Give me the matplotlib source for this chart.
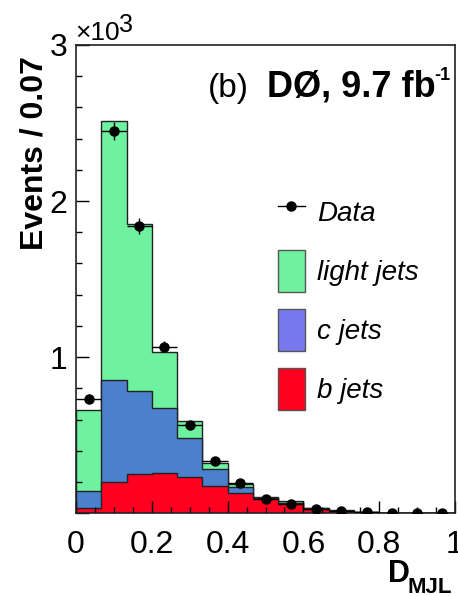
import matplotlib
matplotlib.use('Agg')
import matplotlib.pyplot as plt
import numpy as np
from matplotlib.patches import Patch
from matplotlib.lines import Line2D
from matplotlib.ticker import MultipleLocator, FuncFormatter

plt.rcParams['font.family'] = ['Liberation Sans', 'DejaVu Sans']

# D_MJL bins, 15 bins from 0 to 1
bin_edges = np.linspace(0, 1, 16)

# stacked components (events per bin)
b_jets = [30, 201, 250, 256, 233, 175, 130, 95, 62, 28, 14, 5, 3, 1.5, 1]
c_jets = [111, 652, 534, 419, 246, 111, 35, 5, 4, 2, 1, 1, 0.5, 0.5, 0.2]
light_jets = [519, 1662, 1071, 359, 113, 37, 25, 6, 9, 6, 4, 2, 0.5, 0.5, 0.3]

# data points
data = [734, 2449, 1842, 1066, 564, 333, 194, 93, 58, 24, 13, 5, 3, 2, 2]
data_err = [30, 60, 50, 35, 25, 20, 15, 10, 8, 5, 4, 3, 2, 2, 2]

green = '#6ef2a0'
blue = '#4a80cc'
blue_leg = '#7878ee'
red = '#ff0020'

fig = plt.figure(figsize=(4.58, 5.96), dpi=100)
ax = fig.add_axes([0.166, 0.139, 0.8274, 0.7855])

b = np.array(b_jets)
bc = b + np.array(c_jets)
total = bc + np.array(light_jets)

ax.stairs(total, bin_edges, fill=True, facecolor=green, edgecolor='#222222', linewidth=1)
ax.stairs(bc, bin_edges, fill=True, facecolor=blue, edgecolor='#222222', linewidth=1)
ax.stairs(b, bin_edges, fill=True, facecolor=red, edgecolor='#222222', linewidth=1)

centers = 0.5 * (bin_edges[:-1] + bin_edges[1:])
half_w = 0.5 * np.diff(bin_edges)
ax.errorbar(centers, data, xerr=half_w, yerr=data_err, fmt='o', color='black',
            markersize=6.5, elinewidth=1, capsize=0, zorder=5)

ax.set_xlim(0, 1)
ax.set_ylim(0, 3000)

ax.xaxis.set_major_locator(MultipleLocator(0.2))
ax.xaxis.set_minor_locator(MultipleLocator(0.05))
ax.yaxis.set_major_locator(MultipleLocator(1000))
ax.yaxis.set_minor_locator(MultipleLocator(200))
ax.xaxis.set_major_formatter(FuncFormatter(lambda v, p: '%g' % round(v, 2)))
ax.yaxis.set_major_formatter(FuncFormatter(lambda v, p: '' if v == 0 else '%d' % (v / 1000)))
ax.tick_params(which='both', direction='in', top=False, right=False, labelsize=23)
ax.tick_params(which='major', length=9, width=1)
ax.tick_params(which='minor', length=4.5, width=1)
ax.tick_params(axis='x', pad=12)
ax.tick_params(axis='y', pad=6)
for s in ax.spines.values():
    s.set_linewidth(1.2)
    s.set_color('#222222')

ax.set_ylabel('Events / 0.07', fontsize=23, fontweight='bold')
ax.yaxis.set_label_coords(-0.069, 0.77)

# x label D_MJL
ax.text(0.881, -0.147, 'D', transform=ax.transAxes, ha='right', va='baseline',
        fontsize=22, fontweight='bold')
ax.text(0.993, -0.171, 'MJL', transform=ax.transAxes, ha='right', va='baseline',
        fontsize=16, fontweight='bold')

# exponent label
ax.text(-0.003, 1.011, '×10', transform=ax.transAxes, ha='left', va='baseline', fontsize=19)
ax.text(0.114, 1.028, '3', transform=ax.transAxes, ha='left', va='baseline', fontsize=18)

# experiment label
ax.text(0.348, 0.889, '(b)', transform=ax.transAxes, ha='left', va='baseline', fontsize=24)
ax.text(0.504, 0.889, 'DØ, 9.7 fb', transform=ax.transAxes, ha='left', va='baseline',
        fontsize=26, fontweight='bold')
ax.text(0.946, 0.925, '-1', transform=ax.transAxes, ha='left', va='baseline',
        fontsize=13, fontweight='bold')

handles = [
    Line2D([0], [0], color='black', marker='o', markersize=6.5, linewidth=1),
    Patch(facecolor=green, edgecolor='#555555'),
    Patch(facecolor=blue_leg, edgecolor='#555555'),
    Patch(facecolor=red, edgecolor='#555555'),
]
labels = ['Data', 'light jets', 'c jets', 'b jets']
leg = ax.legend(handles, labels, loc='upper left', bbox_to_anchor=(0.533, 0.688),
                frameon=False, prop={'style': 'italic', 'size': 20},
                handlelength=0.97, handleheight=1.95, labelspacing=0.61,
                handletextpad=0.45, borderpad=0, borderaxespad=0)

fig.savefig('out.png', dpi=100)
